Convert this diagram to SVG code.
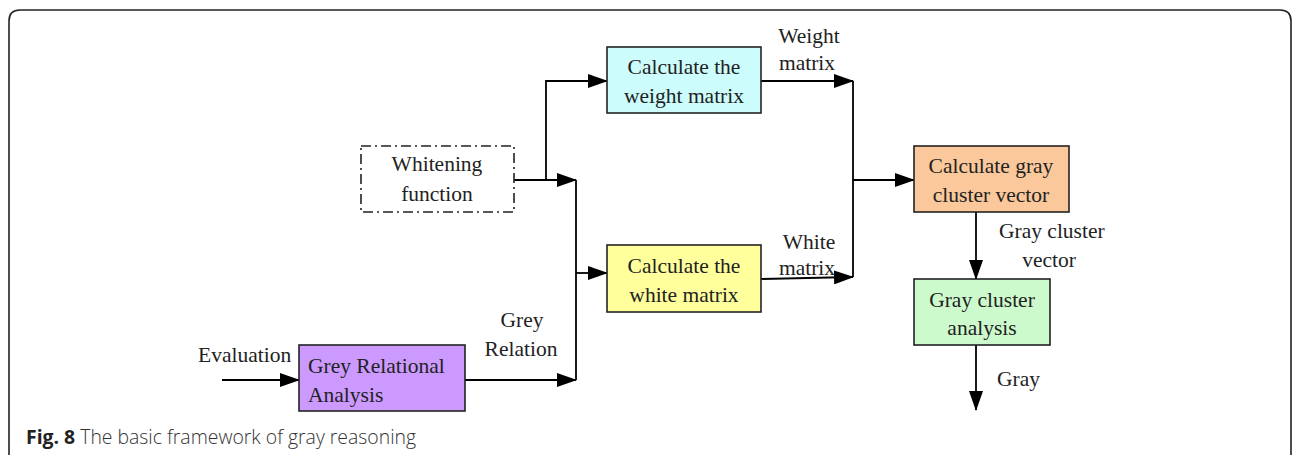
<svg xmlns="http://www.w3.org/2000/svg" width="1293" height="455" viewBox="0 0 1293 455">
  <defs>
    <marker id="arr" markerUnits="userSpaceOnUse" markerWidth="20" markerHeight="14" refX="19" refY="7" orient="auto">
      <path d="M0,0 L20,7 L0,14 Z" fill="#000"/>
    </marker>
    <style>
      .box { stroke: #222; stroke-width: 1.6; }
      .lbl { font-family: "Liberation Serif", "Times New Roman", serif; font-size: 21.5px; fill: #222; }
      .mid { text-anchor: middle; }
      .ln { fill: none; stroke: #000; stroke-width: 1.8; }
      .cap { font-family: "Open Sans", "Noto Sans", sans-serif; font-size: 19.4px; font-weight: 300; fill: #333; }
    </style>
  </defs>
  <rect width="1293" height="455" fill="#fff"/>

  <!-- outer frame -->
  <path d="M9,455 L9,21 Q9,10 20,10 L1280,10 Q1291,10 1291,21 L1291,455" fill="none" stroke="#222" stroke-width="1.6"/>

  <!-- connectors -->
  <g id="connectors">
    <path class="ln" d="M222,380 L299,380" marker-end="url(#arr)"/>
    <path class="ln" d="M465,380 L576,380"  marker-end="url(#arr)"/>
    <path class="ln" d="M576,380 L576,180"/>
    <path class="ln" d="M514,180 L576,180" marker-end="url(#arr)"/>
    <path class="ln" d="M546,180 L546,81 L607,81" marker-end="url(#arr)"/>
    <path class="ln" d="M576,273 L607,273" marker-end="url(#arr)"/>
    <path class="ln" d="M761,81 L853,81" marker-end="url(#arr)"/>
    <path class="ln" d="M761,279 L853,277" marker-end="url(#arr)"/>
    <path class="ln" d="M853,81 L853,277"/>
    <path class="ln" d="M853,180 L914,180" marker-end="url(#arr)"/>
    <path class="ln" d="M976,212 L976,279" marker-end="url(#arr)"/>
    <path class="ln" d="M976,345 L976,410" marker-end="url(#arr)"/>
  </g>

  <!-- edge labels -->
  <g id="edge-labels">
    <text class="lbl" x="198" y="362">Evaluation</text>
    <text class="lbl mid" x="522" y="327">Grey</text>
    <text class="lbl mid" x="521" y="356">Relation</text>
    <text class="lbl mid" x="809" y="43">Weight</text>
    <text class="lbl mid" x="807" y="70">matrix</text>
    <text class="lbl mid" x="809" y="249">White</text>
    <text class="lbl mid" x="807" y="275">matrix</text>
    <text class="lbl" x="999" y="238">Gray cluster</text>
    <text class="lbl mid" x="1049" y="267">vector</text>
    <text class="lbl" x="997" y="386">Gray</text>
  </g>

  <g id="whitening">
    <rect x="361" y="146" width="153" height="66" fill="#fff" stroke="#222" stroke-width="1.6" stroke-dasharray="10,4,2,4"/>
    <text class="lbl mid" x="437" y="171">Whitening</text>
    <text class="lbl mid" x="437" y="201">function</text>
  </g>

  <g id="weight">
    <rect class="box" x="607" y="47" width="154" height="66" fill="#ccfcfc"/>
    <text class="lbl mid" x="684" y="74">Calculate the</text>
    <text class="lbl mid" x="684" y="103">weight matrix</text>
  </g>

  <g id="white">
    <rect class="box" x="607" y="245" width="154" height="67" fill="#ffff9c"/>
    <text class="lbl mid" x="684" y="273">Calculate the</text>
    <text class="lbl mid" x="684" y="302">white matrix</text>
  </g>

  <g id="grey-relational">
    <rect class="box" x="299" y="345" width="166" height="66" fill="#cc99ff"/>
    <text class="lbl" x="308" y="373">Grey Relational</text>
    <text class="lbl" x="308" y="402">Analysis</text>
  </g>

  <g id="gray-vector">
    <rect class="box" x="914" y="146" width="155" height="66" fill="#fac89a"/>
    <text class="lbl mid" x="991" y="173">Calculate gray</text>
    <text class="lbl mid" x="991" y="202">cluster vector</text>
  </g>

  <g id="gray-analysis">
    <rect class="box" x="914" y="279" width="136" height="66" fill="#ccfacc"/>
    <text class="lbl mid" x="982" y="307">Gray cluster</text>
    <text class="lbl mid" x="982" y="335">analysis</text>
  </g>

  <text class="cap" x="26" y="444"><tspan font-weight="bold" fill="#222">Fig. 8</tspan> The basic framework of gray reasoning</text>
</svg>
